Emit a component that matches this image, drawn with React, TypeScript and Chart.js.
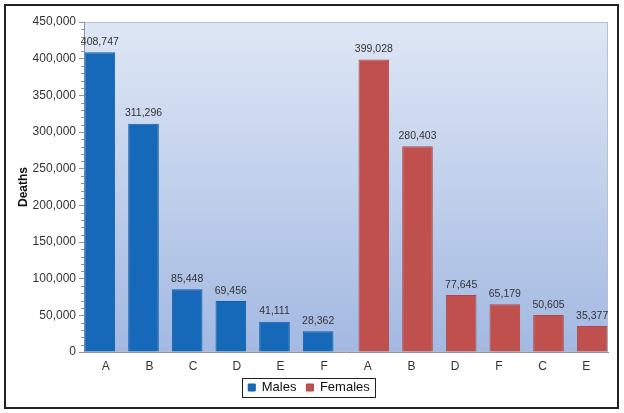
import { useEffect, useRef } from 'react';
import { Chart, registerables } from 'chart.js';
import type { Plugin } from 'chart.js';

Chart.register(...registerables);

const CATEGORIES = ['A', 'B', 'C', 'D', 'E', 'F', 'A', 'B', 'D', 'F', 'C', 'E'];
const MALES = [408747, 311296, 85448, 69456, 41111, 28362, null, null, null, null, null, null];
const FEMALES = [null, null, null, null, null, null, 399028, 280403, 77645, 65179, 50605, 35377];
const Y_MAX = 450000;
const Y_STEP = 50000;
const Y_MINOR_STEP = 10000;

const FONT = "'Liberation Sans', Arial, sans-serif";
const MALE_COLOR = '#1569b8';
const FEMALE_COLOR = '#c0504d';
const AXIS_COLOR = '#8c94a3';

function fmt(v: number) {
  return v.toLocaleString('en-US');
}

// plot area gradient + thin frame
const plotBackground: Plugin<'bar'> = {
  id: 'plotBackground',
  beforeDraw(chart) {
    const { ctx, chartArea: a } = chart;
    const g = ctx.createLinearGradient(0, a.top, 0, a.bottom);
    g.addColorStop(0, '#dee7f5');
    g.addColorStop(1, '#a3b9e2');
    ctx.save();
    ctx.fillStyle = g;
    ctx.fillRect(a.left, a.top, a.right - a.left, a.bottom - a.top);
    ctx.strokeStyle = '#b9c0cc';
    ctx.lineWidth = 1;
    ctx.strokeRect(a.left + 0.5, a.top + 0.5, a.right - a.left - 1, a.bottom - a.top - 1);
    ctx.restore();
  },
};

// short minor tick marks on the y axis
const minorTicks: Plugin<'bar'> = {
  id: 'minorTicks',
  afterDraw(chart) {
    const y = chart.scales.y;
    const ctx = chart.ctx;
    ctx.save();
    ctx.strokeStyle = AXIS_COLOR;
    ctx.lineWidth = 1;
    for (let v = 0; v <= Y_MAX; v += Y_MINOR_STEP) {
      if (v % Y_STEP === 0) continue;
      const py = Math.round(y.getPixelForValue(v)) + 0.5;
      ctx.beginPath();
      ctx.moveTo(y.right - 3, py);
      ctx.lineTo(y.right, py);
      ctx.stroke();
    }
    ctx.restore();
  },
};

// value labels above each bar
const valueLabels: Plugin<'bar'> = {
  id: 'valueLabels',
  afterDatasetsDraw(chart) {
    const ctx = chart.ctx;
    ctx.save();
    ctx.font = `10.5px ${FONT}`;
    ctx.fillStyle = '#333333';
    ctx.textAlign = 'center';
    ctx.textBaseline = 'bottom';
    chart.data.datasets.forEach((ds, di) => {
      const meta = chart.getDatasetMeta(di);
      meta.data.forEach((bar, i) => {
        const v = ds.data[i] as number | null;
        if (v === null || v === undefined) return;
        ctx.fillText(fmt(v), bar.x, bar.y - 5);
      });
    });
    ctx.restore();
  },
};

// box around the legend items
const legendBox: Plugin<'bar'> = {
  id: 'legendBox',
  afterDraw(chart) {
    const legend = chart.legend as any;
    const boxes = legend?.legendHitBoxes;
    if (!boxes || !boxes.length) return;
    const first = boxes[0];
    const last = boxes[boxes.length - 1];
    const ctx = chart.ctx;
    const left = Math.round(first.left - 6) + 0.5;
    const right = Math.round(last.left + last.width + 5) + 0.5;
    const top = Math.round(first.top - 3) + 0.5;
    const bottom = Math.round(first.top + first.height + 3) + 0.5;
    ctx.save();
    ctx.strokeStyle = '#222222';
    ctx.lineWidth = 1;
    ctx.strokeRect(left, top, right - left, bottom - top);
    ctx.restore();
  },
};

export default function App() {
  const canvasRef = useRef<HTMLCanvasElement | null>(null);

  useEffect(() => {
    const canvas = canvasRef.current;
    if (!canvas) return;

    Chart.defaults.font.family = FONT;

    const chart = new Chart(canvas, {
      type: 'bar',
      data: {
        labels: CATEGORIES,
        datasets: [
          {
            label: 'Males',
            data: MALES,
            backgroundColor: MALE_COLOR,
            borderColor: '#125fa8',
            borderWidth: 1,
          },
          {
            label: 'Females',
            data: FEMALES,
            backgroundColor: FEMALE_COLOR,
            borderColor: '#b24845',
            borderWidth: 1,
          },
        ],
      },
      options: {
        responsive: false,
        animation: false,
        devicePixelRatio: 1,
        categoryPercentage: 0.55,
        barPercentage: 2.55,
        layout: { padding: { left: 10, right: 16, top: 22, bottom: 9 } },
        plugins: {
          legend: {
            position: 'bottom',
            labels: {
              color: '#111111',
              font: { size: 13 },
              boxWidth: 7,
              boxHeight: 7,
              padding: 10,
            },
          },
          tooltip: { enabled: false },
        },
        scales: {
          x: {
            grid: { display: false, drawTicks: false },
            border: { display: true, color: AXIS_COLOR },
            ticks: { color: '#333333', font: { size: 12 }, padding: 7 },
            afterFit: (s) => {
              s.height = 19;
            },
          },
          y: {
            min: 0,
            max: Y_MAX,
            grid: { drawOnChartArea: false, drawTicks: true, tickLength: 5, color: AXIS_COLOR },
            border: { display: true, color: AXIS_COLOR },
            ticks: {
              stepSize: Y_STEP,
              color: '#333333',
              font: { size: 12 },
              padding: 3,
              callback: (val) => fmt(Number(val)),
            },
            title: {
              display: true,
              text: 'Deaths',
              color: '#111111',
              font: { size: 12, weight: 'bold' },
              padding: { top: 6, bottom: 0 },
            },
            afterFit: (s) => {
              s.width = 74;
            },
          },
        },
      },
      plugins: [plotBackground, minorTicks, valueLabels, legendBox],
    });

    return () => {
      chart.destroy();
    };
  }, []);

  return (
    <div style={{ position: 'fixed', left: 0, top: 0, width: 624, height: 413, background: '#ffffff' }}>
      <canvas ref={canvasRef} width={624} height={413} style={{ width: 624, height: 413 }} />
      <div
        style={{
          position: 'absolute',
          left: 4,
          top: 4,
          width: 611,
          height: 401,
          border: '2px solid #222222',
          pointerEvents: 'none',
        }}
      />
    </div>
  );
}
